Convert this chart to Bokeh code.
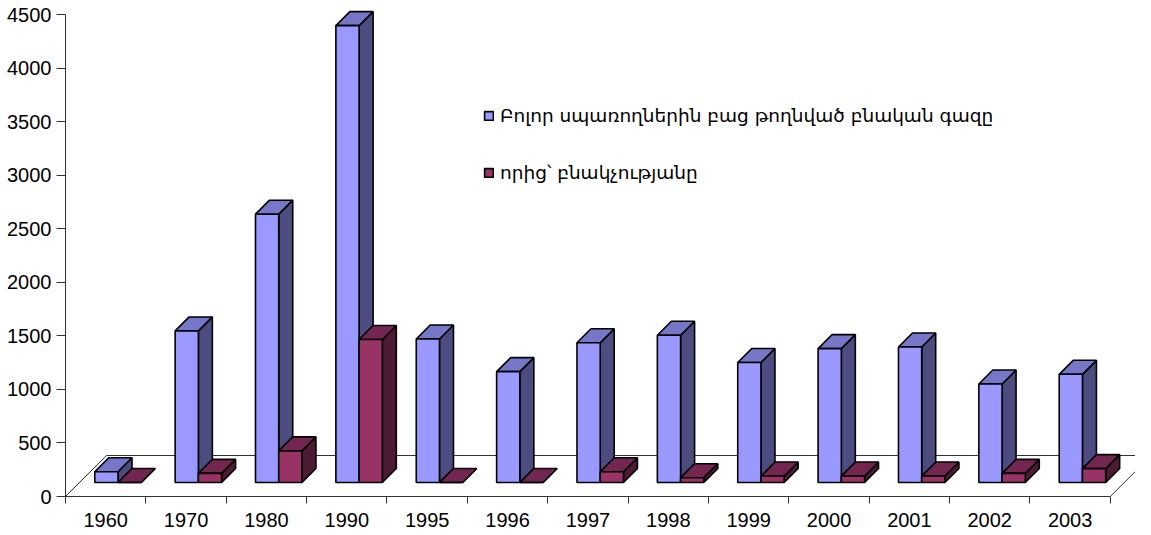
from bokeh.plotting import figure
from bokeh.models import Range1d, FixedTicker, Legend, LegendItem
from bokeh.embed import file_html
from bokeh.resources import INLINE

# ---------------- data ----------------
years = ["1960", "1970", "1980", "1990", "1995", "1996", "1997",
         "1998", "1999", "2000", "2001", "2002", "2003"]
total_gas = [100, 1415, 2505, 4265, 1340, 1035, 1305, 1375, 1120, 1250, 1265, 920, 1010]
household_gas = [0, 85, 295, 1335, 0, 0, 100, 45, 60, 60, 60, 85, 130]
y_ticks = [0, 500, 1000, 1500, 2000, 2500, 3000, 3500, 4000, 4500]
series_labels = ["Բոլոր սպառողներին բաց թողնված բնական գազը",
                 "որից՝ բնակչությանը"]

# ---------------- layout / style ----------------
BORDER_L = 65
FRAME_W, FRAME_H = 1070, 496
PXX = 80.37                 # px per category
PXY = 482.0 / 4500.0        # px per value unit

front_cols = ["#9999FF", "#993366"]
top_cols = ["#7777C8", "#73264F"]
side_cols = ["#4C4C80", "#4D1A33"]
bar_offsets = [0.19, 0.479]
bar_w = 0.289
d1, d2, dfloor = 14.0, 28.0, 41.0   # depth in px


def ddx(px):
    return px / PXX


def ddy(px):
    return px / PXY


p = figure(frame_width=FRAME_W, frame_height=FRAME_H,
           output_backend="svg", toolbar_location=None,
           x_range=Range1d(0, FRAME_W / PXX), y_range=Range1d(0, FRAME_H / PXY),
           min_border_left=BORDER_L, min_border_bottom=30,
           min_border_top=0, min_border_right=0)
p.outline_line_color = None
p.grid.visible = False
p.background_fill_color = "white"
p.border_fill_color = "white"

n = len(years)

# floor
p.patch([0, n, n + ddx(dfloor), ddx(dfloor)], [0, 0, ddy(dfloor), ddy(dfloor)],
        fill_color="white", line_color="#333333", line_width=1)

front_renderers = []
for s, vals in enumerate([total_gas, household_gas]):
    off = bar_offsets[s]
    a1, a2, b1, b2 = ddx(d1), ddx(d2), ddy(d1), ddy(d2)
    side_xs, side_ys, top_xs, top_ys = [], [], [], []
    lefts, rights, tops, bottoms = [], [], [], []
    for i, v in enumerate(vals):
        L = i + off
        R = L + bar_w
        side_xs.append([R + a1, R + a2, R + a2, R + a1])
        side_ys.append([b1, b2, v + b2, v + b1])
        top_xs.append([L + a1, R + a1, R + a2, L + a2])
        top_ys.append([v + b1, v + b1, v + b2, v + b2])
        lefts.append(L + a1)
        rights.append(R + a1)
        bottoms.append(b1)
        tops.append(v + b1)
    p.patches(side_xs, side_ys, fill_color=side_cols[s], line_color="black", line_width=1.6)
    p.patches(top_xs, top_ys, fill_color=top_cols[s], line_color="black", line_width=1.6)
    r = p.quad(left=lefts, right=rights, bottom=bottoms, top=tops,
               fill_color=front_cols[s], line_color="black", line_width=1.6)
    front_renderers.append(r)

# axes
xa = p.xaxis[0]
xa.ticker = FixedTicker(ticks=[i + 0.5 for i in range(n)], minor_ticks=list(range(n + 1)))
xa.major_label_overrides = {i + 0.5: y for i, y in enumerate(years)}
xa.bounds = (0, n)
xa.major_tick_out = 0
xa.major_tick_in = 0
xa.minor_tick_out = 7
xa.minor_tick_in = 0
xa.major_label_standoff = 9
xa.axis_line_color = "#333333"
xa.minor_tick_line_color = "#333333"
xa.major_label_text_font = "Liberation Sans"
xa.major_label_text_font_size = "20px"
xa.major_label_text_color = "black"

ya = p.yaxis[0]
ya.ticker = FixedTicker(ticks=y_ticks, minor_ticks=[])
ya.bounds = (0, 4500)
ya.major_tick_out = 9
ya.major_tick_in = 0
ya.major_label_standoff = 5
ya.axis_line_color = "#333333"
ya.major_tick_line_color = "#333333"
ya.major_label_text_font = "Liberation Sans"
ya.major_label_text_font_size = "20px"
ya.major_label_text_color = "black"

legend = Legend(items=[LegendItem(label=series_labels[0], renderers=[front_renderers[0]]),
                       LegendItem(label=series_labels[1], renderers=[front_renderers[1]])],
                location=(418, 313), orientation="vertical",
                glyph_width=11, glyph_height=11, label_standoff=6, spacing=36,
                padding=0, margin=0, border_line_color=None, background_fill_alpha=0,
                label_text_font="DejaVu Sans", label_text_font_size="18.5px",
                label_text_color="black")
p.add_layout(legend, "center")

open("out.html", "w").write(file_html(p, INLINE))
